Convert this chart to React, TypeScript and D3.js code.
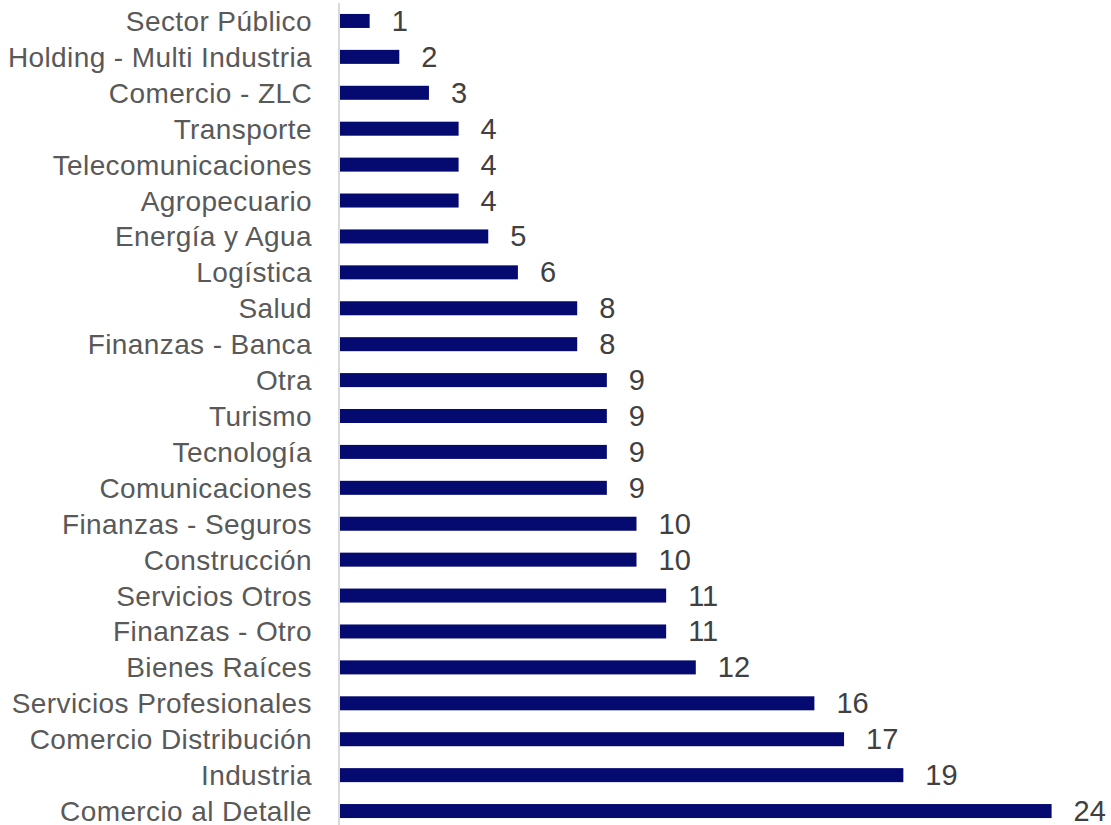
import React from "react";
import * as d3 from "d3";

const categories = [
  "Sector Público",
  "Holding - Multi Industria",
  "Comercio - ZLC",
  "Transporte",
  "Telecomunicaciones",
  "Agropecuario",
  "Energía y Agua",
  "Logística",
  "Salud",
  "Finanzas - Banca",
  "Otra",
  "Turismo",
  "Tecnología",
  "Comunicaciones",
  "Finanzas - Seguros",
  "Construcción",
  "Servicios Otros",
  "Finanzas - Otro",
  "Bienes Raíces",
  "Servicios Profesionales",
  "Comercio Distribución",
  "Industria",
  "Comercio al Detalle",
];

const values = [1, 2, 3, 4, 4, 4, 5, 6, 8, 8, 9, 9, 9, 9, 10, 10, 11, 11, 12, 16, 17, 19, 24];

const W = 1111;
const H = 825;
const AXIS_X = 340;

export default function App() {
  const x = d3.scaleLinear().domain([0, 24]).range([AXIS_X, AXIS_X + 24 * 29.65]);
  const y = d3
    .scaleBand<string>()
    .domain(categories)
    .range([3, 829])
    .paddingInner(0.61)
    .paddingOuter(0.305);
  const bw = y.bandwidth();
  const font = "'Liberation Sans', Arial, sans-serif";
  return (
    <svg
      width={W}
      height={H}
      style={{ position: "absolute", left: 0, top: 0, background: "#fff" }}
    >
      {categories.map((c, i) => {
        const yc = (y(c) as number) + bw / 2;
        return (
          <g key={c}>
            <rect
              x={x(0)}
              y={y(c)}
              width={x(values[i]) - x(0)}
              height={bw}
              fill="#050a70"
            />
            <text
              x={312}
              y={yc + 10}
              textAnchor="end"
              fontFamily={font}
              fontSize={28}
              letterSpacing={0.4}
              fill="#595959"
            >
              {c}
            </text>
            <text
              x={x(values[i]) + 22}
              y={yc + 10}
              fontFamily={font}
              fontSize={29}
              fill="#404040"
            >
              {values[i]}
            </text>
          </g>
        );
      })}
      <line x1={AXIS_X - 1} x2={AXIS_X - 1} y1={3} y2={H} stroke="#d9d9d9" strokeWidth={2} />
    </svg>
  );
}
